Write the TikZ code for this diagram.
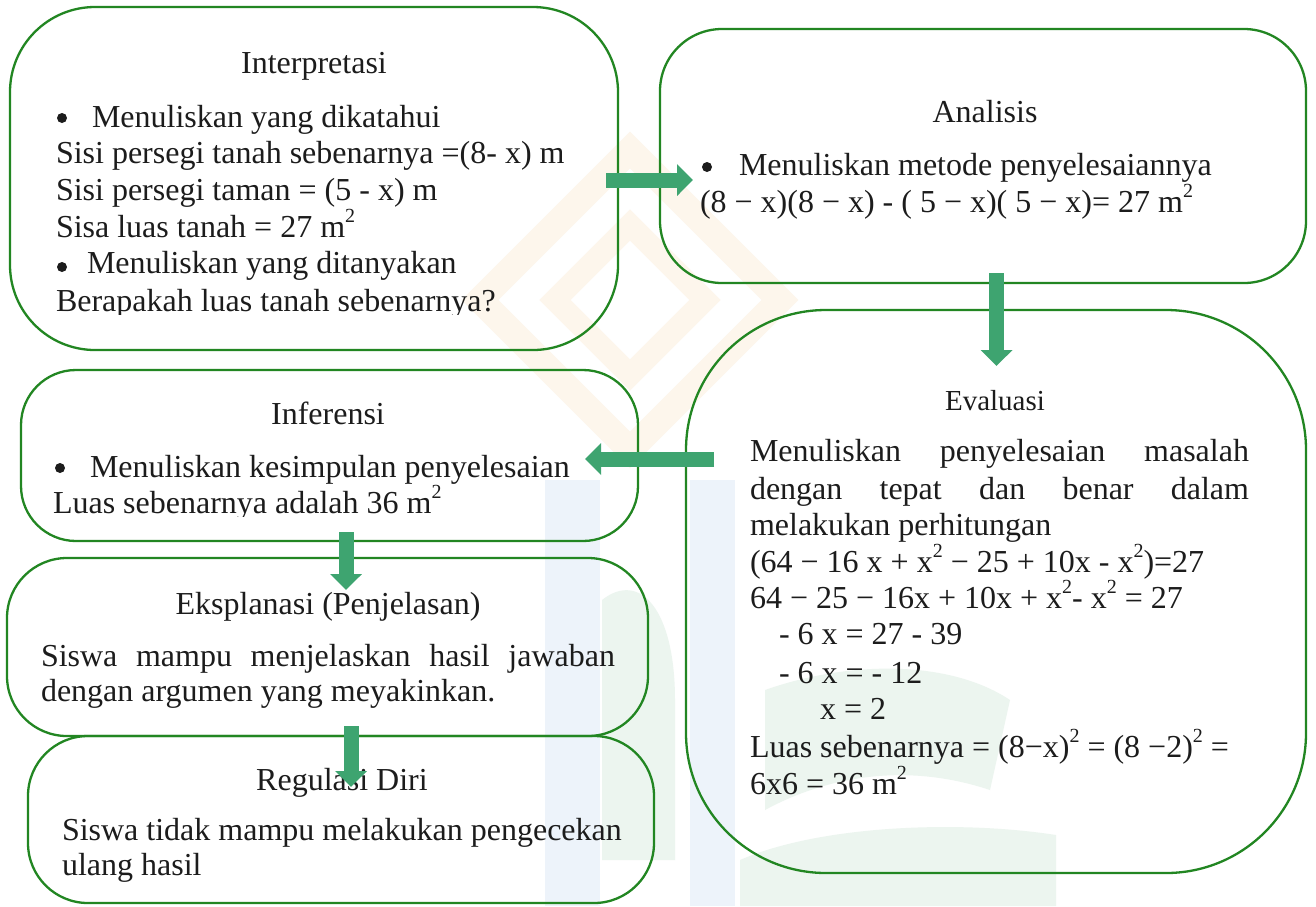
\documentclass[tikz,border=0pt]{standalone}
\usepackage{fontspec}
\setmainfont{Liberation Serif}
\usetikzlibrary{arrows.meta}
\definecolor{boxgreen}{RGB}{34,134,34}
\definecolor{arrowgreen}{RGB}{62,164,112}
\definecolor{txt}{RGB}{28,28,28}
\definecolor{wmbeige}{RGB}{253,246,236}
\definecolor{wmblue}{RGB}{237,243,250}
\definecolor{wmgreen}{RGB}{236,245,239}
\newcommand{\sq}{\raisebox{15pt}{\fontsize{20}{20}\selectfont 2}}
\tikzset{
  box/.style={draw=boxgreen, line width=2.3pt, inner sep=0pt},
  lbl/.style={inner sep=0pt, outer sep=0pt, text=txt, font=\fontsize{32}{37}\selectfont, anchor=base west},
  ttl/.style={inner sep=0pt, outer sep=0pt, text=txt, font=\fontsize{32}{37}\selectfont, anchor=base},
  bul/.style={circle, fill=txt, inner sep=0pt, minimum size=10pt},
  flow/.style={draw=arrowgreen, line width=15pt, line cap=butt, -{Triangle[width=31pt,length=16pt]}}
}
\begin{document}
\begin{tikzpicture}[x=1pt,y=-1pt]
\useasboundingbox (0,0) rectangle (1316,906);
\fill[white] (0,0) rectangle (1316,906);
% faint watermark
\begin{scope}
  \draw[wmbeige, line width=26pt] (630,150) -- (780,300) -- (630,450) -- (480,300) -- cycle;
  \draw[wmbeige, line width=22pt] (630,225) -- (705,300) -- (630,375) -- (555,300) -- cycle;
  \fill[wmblue] (545,480) rectangle (600,906);
  \fill[wmblue] (690,480) rectangle (735,906);
  \fill[wmgreen] (602,600) .. controls (640,570) and (675,610) .. (675,700) -- (675,860) -- (602,860) -- cycle;
  \fill[wmgreen] (765,690) .. controls (850,660) and (950,660) .. (1010,700) -- (990,790) .. controls (900,760) and (820,780) .. (765,810) -- cycle;
  \fill[wmgreen] (740,860) .. controls (820,825) and (960,820) .. (1056,835) -- (1056,906) -- (740,906) -- cycle;
\end{scope}
% boxes
\node[box, rounded corners=85pt, minimum width=608pt, minimum height=343pt] (interp) at (314,178.5) {};
\node[box, rounded corners=62pt, minimum width=646pt, minimum height=254pt] (anal) at (983,156) {};
\node[box, rounded corners=140pt, minimum width=620pt, minimum height=563pt] (eval) at (996,591.5) {};
\node[box, rounded corners=55pt, minimum width=617pt, minimum height=171pt] (infer) at (329.5,455.5) {};
\node[box, rounded corners=60pt, minimum width=641pt, minimum height=178pt] (ekspl) at (327.5,647) {};
\node[box, rounded corners=60pt, minimum width=626pt, minimum height=167pt] (regul) at (341,819.5) {};
% Interpretasi text
\node[ttl] (t1) at (314,73) {Interpretasi};
\node[bul] (t1b1) at (62,118) {};
\node[lbl] (t1a) at (92,127) {Menuliskan yang dikatahui};
\node[lbl] (t1c) at (56,163) {Sisi persegi tanah sebenarnya =(8- x) m};
\node[lbl] (t1d) at (56,200) {Sisi persegi taman = (5 - x) m};
\node[lbl] (t1e) at (56,237) {Sisa luas tanah = 27 m\sq};
\node[bul] (t1b2) at (62,267) {};
\node[lbl] (t1f) at (87,273) {Menuliskan yang ditanyakan};
\begin{scope}
  \clip (0,0) rectangle (1316,314);
  \node[lbl] (t1g) at (56,311) {Berapakah luas tanah sebenarnya?};
\end{scope}
% Analisis text
\node[ttl] (t2) at (985,122) {Analisis};
\node[bul] (t2b) at (707,167) {};
\node[lbl] (t2a) at (739,175) {Menuliskan metode penyelesaiannya};
\node[lbl] (t2c) at (700,212) {(8 − x)(8 − x) - ( 5 − x)( 5 − x)= 27 m\sq};
% Evaluasi text
\node[ttl, font=\fontsize{29}{34}\selectfont] (t3) at (995,410) {Evaluasi};
\node[lbl] (t3a) at (750,461) {\makebox[499pt][s]{Menuliskan penyelesaian masalah}};
\node[lbl] (t3b) at (750,499) {\makebox[499pt][s]{dengan tepat dan benar dalam}};
\node[lbl] (t3c) at (750,535) {melakukan perhitungan};
\node[lbl] (t3d) at (750,572) {(64 − 16 x + x\sq{} − 25 + 10x - x\sq)=27};
\node[lbl] (t3e) at (750,608) {64 − 25 − 16x + 10x + x\sq- x\sq{} = 27};
\node[lbl] (t3f) at (779,644) {- 6 x = 27 - 39};
\node[lbl] (t3g) at (779,683) {- 6 x = - 12};
\node[lbl] (t3h) at (820,719) {x = 2};
\node[lbl] (t3i) at (750,757) {Luas sebenarnya = (8−x)\sq{} = (8 −2)\sq{} =};
\node[lbl] (t3j) at (750,794) {6x6 = 36 m\sq};
% Inferensi text
\node[ttl] (t4) at (328,424) {Inferensi};
\node[bul] (t4b) at (60,468) {};
\node[lbl] (t4a) at (90,477) {Menuliskan kesimpulan penyelesaian};
\begin{scope}
  \clip (0,0) rectangle (1316,516);
  \node[lbl] (t4c) at (53,513) {Luas sebenarnya adalah 36 m\sq};
\end{scope}
% Eksplanasi text
\node[ttl] (t5) at (328,614) {Eksplanasi (Penjelasan)};
\node[lbl] (t5a) at (41,666) {\makebox[574pt][s]{Siswa mampu menjelaskan hasil jawaban}};
\node[lbl] (t5b) at (41,701) {dengan argumen yang meyakinkan.};
% Regulasi text
\node[ttl] (t6) at (342,790) {Regulasi Diri};
\node[lbl] (t6a) at (62,840) {Siswa tidak mampu melakukan pengecekan};
\node[lbl] (t6b) at (62,875) {ulang hasil};
% arrows
\coordinate (a1s) at (606,180);
\coordinate (a1e) at (693,180);
\coordinate (a2s) at (996.5,273);
\coordinate (a2e) at (996.5,366);
\coordinate (a3s) at (714,459);
\coordinate (a3e) at (585,459);
\coordinate (a4s) at (346,532);
\coordinate (a4e) at (346,590);
\coordinate (a5s) at (351,726);
\coordinate (a5e) at (351,787);
\draw[flow] (a1s) -- (a1e);
\draw[flow] (a2s) -- (a2e);
\draw[flow] (a3s) -- (a3e);
\draw[flow] (a4s) -- (a4e);
\draw[flow] (a5s) -- (a5e);
\end{tikzpicture}
\end{document}
